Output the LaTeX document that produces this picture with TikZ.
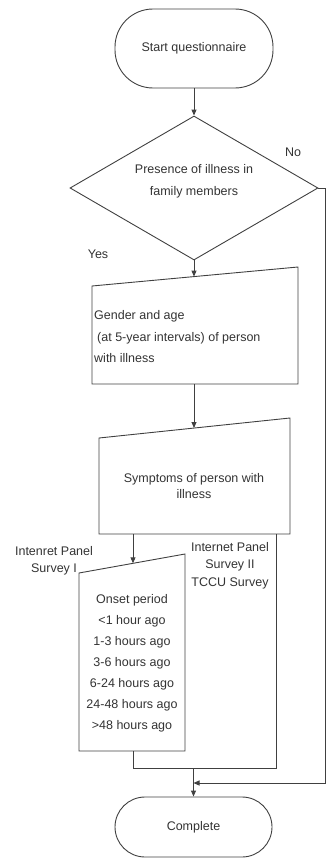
\documentclass[tikz,border=0pt]{standalone}
\usepackage{fontspec}
\setmainfont{Liberation Sans}
\usetikzlibrary{shapes.geometric,arrows.meta}
\begin{document}
\begin{tikzpicture}[x=1pt,y=-1pt,
  line/.style={draw=black!75, line width=0.9pt},
  arr/.style={line, -{Triangle[length=6pt,width=5pt]}},
  term/.style={line, inner sep=0pt, font=\fontsize{12.5}{15}\selectfont, text=black!80},
  txt/.style={inner sep=0pt, text=black!80, font=\fontsize{12.5}{#1}\selectfont},
  txt/.default=15
]
\useasboundingbox (0,0) rectangle (325,859);

% start terminal
\node[term, minimum width=158pt, minimum height=79pt, rounded corners=38pt] (start) at (194,48.5) {Start questionnaire};

% decision
\node[line, diamond, minimum width=248pt, minimum height=144pt, inner sep=0pt] (dec) at (194,188) {};
\node[txt=22, align=center] (dectext) at (194,181) {Presence of illness in\\family members};
\node[txt] (no) at (293,152) {No};
\node[txt] (yes) at (98,254) {Yes};

% gender box
\coordinate (g1) at (92,286);
\coordinate (g2) at (298,267);
\coordinate (g3) at (298,384);
\coordinate (g4) at (92,384);
\draw[line] (g1) -- (g2) -- (g3) -- (g4) -- cycle;
\coordinate (gtop) at (194,276.6);
\coordinate (gbot) at (194,384);
\node[txt=21.5, align=left, anchor=west] (gtext) at (94,337) {Gender and age\\\hspace*{3pt}(at 5-year intervals) of person\\with illness};

% symptoms box
\coordinate (s1) at (99,438);
\coordinate (s2) at (290,418);
\coordinate (s3) at (290,534);
\coordinate (s4) at (99,534);
\draw[line] (s1) -- (s2) -- (s3) -- (s4) -- cycle;
\coordinate (stop) at (194,428);
\coordinate (sbl) at (133,534);
\coordinate (sbr) at (276,534);
\node[txt=16, align=center] (stext) at (194,486) {Symptoms of person with\\illness};

% onset box
\coordinate (o1) at (79,573);
\coordinate (o2) at (185,554);
\coordinate (o3) at (185,751);
\coordinate (o4) at (79,751);
\draw[line] (o1) -- (o2) -- (o3) -- (o4) -- cycle;
\coordinate (otop) at (133,563.3);
\coordinate (obot) at (133,751);
\node[txt=21, align=center] (otext) at (132,663.5) {Onset period\\<1 hour ago\\1-3 hours ago\\3-6 hours ago\\6-24 hours ago\\24-48 hours ago\\>48 hours ago};

% branch labels
\node[txt=17, align=center] (lab1) at (54,560.5) {Intenret Panel\\Survey I};
\node[txt=17.5, align=center] (lab2) at (230,565.5) {Internet Panel\\Survey II\\TCCU Survey};

% complete terminal
\node[term, minimum width=157pt, minimum height=60pt, rounded corners=30pt] (done) at (193.5,827) {Complete};

% junction coordinates
\coordinate (jl) at (133,768);
\coordinate (jr) at (276,768);
\coordinate (jm) at (193.5,768);
\coordinate (nor) at (325,188);
\coordinate (nobot) at (325,783);
\coordinate (noend) at (193.5,783);

% connectors
\draw[arr] (start.south) -- (dec.north);
\draw[arr] (dec.south) -- (gtop);
\draw[arr] (gbot) -- (stop);
\draw[arr] (sbl) -- (otop);
\draw[line] (obot) -- (jl) -- (jr) -- (sbr);
\draw[arr] (jm) -- (done.north);
\draw[arr] (dec.east) -- (nor) -- (nobot) -- (noend);
\end{tikzpicture}
\end{document}
